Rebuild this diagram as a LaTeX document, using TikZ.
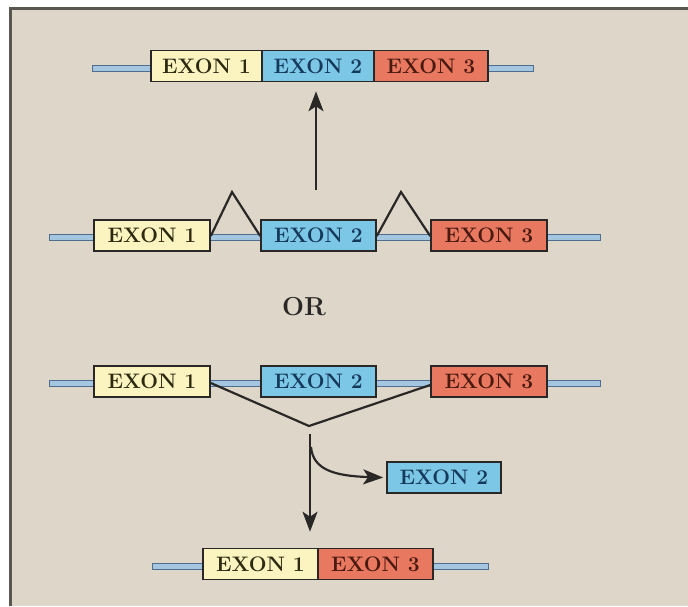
\documentclass[tikz,border=0pt]{standalone}
\usetikzlibrary{arrows.meta}
\definecolor{bg}{HTML}{DFD6CA}
\definecolor{frame}{HTML}{5A5650}
\definecolor{exA}{HTML}{FBF4C0}
\definecolor{exB}{HTML}{7CC6E6}
\definecolor{exC}{HTML}{E8785F}
\definecolor{txA}{HTML}{2E2A12}
\definecolor{txB}{HTML}{15395A}
\definecolor{txC}{HTML}{4A1A10}
\definecolor{bbfill}{HTML}{A4C6E0}
\definecolor{bbdraw}{HTML}{4F6E8E}
\definecolor{ink}{HTML}{2A2826}
\tikzset{
  exonbox/.style={draw=ink, line width=1.6pt, inner sep=0pt, minimum height=31pt,
     font=\fontsize{21}{21}\selectfont\bfseries},
  exone/.style={exonbox, fill=exA, text=txA},
  extwo/.style={exonbox, fill=exB, text=txB},
  exthree/.style={exonbox, fill=exC, text=txC},
  backbone/.style={fill=bbfill, draw=bbdraw, line width=0.9pt},
  splice/.style={draw=ink, line width=2.2pt, line join=miter},
  flow/.style={draw=ink, line width=2.2pt, -{Stealth[length=20pt, width=15pt, inset=5pt]}},
}
\begin{document}
\begin{tikzpicture}[x=1pt, y=-1pt]
\useasboundingbox (0,0) rectangle (688,606);
\fill[white] (0,0) rectangle (688,606);
\fill[bg] (10,8) rectangle (688,606);
\draw[frame, line width=3pt] (10,606) -- (10,8) -- (688,8);

% ---- top row: mature mRNA
\draw[backbone] (92,65) rectangle (533,71);
\node[exone, minimum width=111pt] (ta) at (206.5,66) {EXON 1};
\node[extwo, minimum width=112pt] (tb) at (318,66) {EXON 2};
\node[exthree, minimum width=114pt] (tc) at (431,66) {EXON 3};

% ---- row 2: pre-mRNA, exon inclusion
\draw[backbone] (49,234) rectangle (600,240);
\node[exone, minimum width=116pt] (ra) at (152,235.5) {EXON 1};
\node[extwo, minimum width=115pt] (rb) at (318.5,235.5) {EXON 2};
\node[exthree, minimum width=116pt] (rc) at (489,235.5) {EXON 3};
\coordinate (p1) at (232,192);
\coordinate (p2) at (401,192);
\draw[splice] (ra.east |- 0,236) -- (p1) -- (rb.west |- 0,236);
\draw[splice] (rb.east |- 0,236) -- (p2) -- (rc.west |- 0,236);
\coordinate (upstart) at (316,190);
\draw[flow] (upstart) -- ([yshift=-9pt]tb.south -| upstart);

% ---- OR
\node[font=\fontsize{26}{26}\selectfont\bfseries, text=ink] (or) at (304,307) {OR};

% ---- row 3: pre-mRNA, exon skipping
\draw[backbone] (49,380) rectangle (600,386);
\node[exone, minimum width=116pt] (sa) at (152,381.5) {EXON 1};
\node[extwo, minimum width=115pt] (sb) at (318.5,381.5) {EXON 2};
\node[exthree, minimum width=116pt] (sc) at (489,381.5) {EXON 3};
\coordinate (vb) at (309,426);
\draw[splice] (sa.east |- 0,383) -- (vb) -- (sc.west |- 0,385);

% ---- products
\node[extwo, minimum width=114pt] (side) at (444,477.5) {EXON 2};
\coordinate (dstart) at (310,434);
\coordinate (cstart) at (311,447);
\draw[backbone] (152,563) rectangle (488,569);
\node[exone, minimum width=115pt] (ba) at (260.5,564) {EXON 1};
\node[exthree, minimum width=115pt] (bc) at (375.5,564) {EXON 3};
\draw[flow] (dstart) -- ([yshift=16pt]ba.north east -| dstart);
\draw[flow] (cstart) .. controls (313,470) and (335,476) .. ([xshift=-3pt]side.west);
\end{tikzpicture}
\end{document}
